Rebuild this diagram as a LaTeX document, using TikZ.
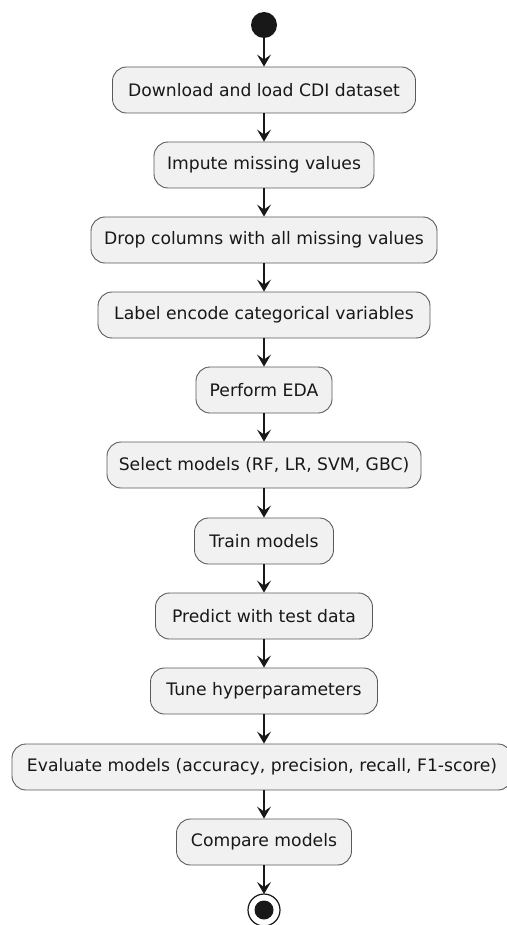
\documentclass[tikz,border=0pt]{standalone}
\usepackage{fontspec}
\setmainfont{DejaVu Sans}
\usetikzlibrary{arrows.meta}
\definecolor{boxfill}{HTML}{F1F1F1}
\definecolor{boxline}{HTML}{5A5A5A}
\definecolor{ink}{HTML}{181818}
\tikzset{
  act/.style={draw=boxline, line width=0.9pt, fill=boxfill, rounded corners=14pt,
    minimum height=46pt, inner sep=0pt, font=\fontsize{17.2}{20}\selectfont, text=ink},
  flow/.style={draw=ink, line width=1.1pt,
    -{Stealth[length=12pt, width=14pt, inset=5pt]}},
}
\begin{document}
\begin{tikzpicture}[x=1pt, y=-1pt]
\useasboundingbox (0,0) rectangle (506,925);
% start and end markers
\fill[ink] (264,25) circle (13) node (start) {};
\coordinate (s) at (264,38);
\node[act, minimum width=303pt] (a1) at (264,90) {Download and load CDI dataset};
\node[act, minimum width=220pt] (a2) at (264,165) {Impute missing values};
\node[act, minimum width=346pt] (a3) at (264,240) {Drop columns with all missing values};
\node[act, minimum width=332pt] (a4) at (264,315) {Label encode categorical variables};
\node[act, minimum width=136pt] (a5) at (264,390) {Perform EDA};
\node[act, minimum width=314pt] (a6) at (264,465) {Select models (RF, LR, SVM, GBC)};
\node[act, minimum width=139pt] (a7) at (264,541) {Train models};
\node[act, minimum width=217pt] (a8) at (264,616) {Predict with test data};
\node[act, minimum width=227pt] (a9) at (264,691) {Tune hyperparameters};
\node[act, minimum width=500pt] (a10) at (262,767) {Evaluate models (accuracy, precision, recall, F1-score)};
\node[act, minimum width=175pt] (a11) at (264,842) {Compare models};
\draw[ink, line width=1.2pt, fill=white] (264,910) circle (16);
\fill[ink] (264,910) circle (9.5);
\coordinate (e) at (264,894);
% control flow
\draw[flow] (s) -- (a1.north);
\draw[flow] (a1.south) -- (a2.north);
\draw[flow] (a2.south) -- (a3.north);
\draw[flow] (a3.south) -- (a4.north);
\draw[flow] (a4.south) -- (a5.north);
\draw[flow] (a5.south) -- (a6.north);
\draw[flow] (a6.south) -- (a7.north);
\draw[flow] (a7.south) -- (a8.north);
\draw[flow] (a8.south) -- (a9.north);
\draw[flow] (a9.south) -- (a9.south |- a10.north);
\draw[flow] (a10.south -| a11.north) -- (a11.north);
\draw[flow] (a11.south) -- (e);
\end{tikzpicture}
\end{document}
